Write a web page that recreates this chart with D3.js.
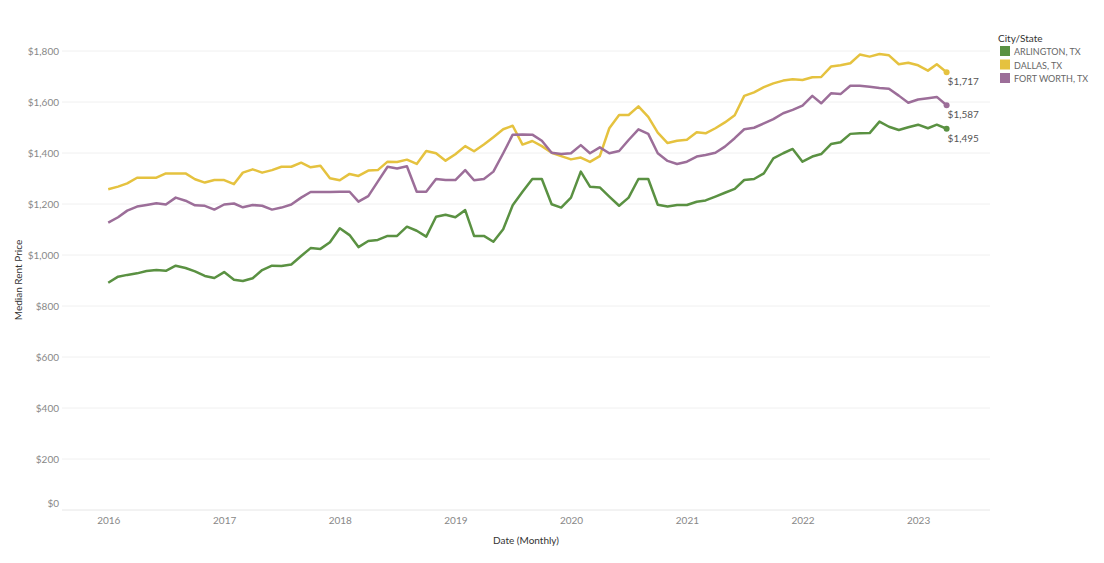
<!DOCTYPE html>
<html><head><meta charset="utf-8">
<script src="https://cdn.jsdelivr.net/npm/d3@7"></script>
<style>
body{margin:0;background:#fff;}
text{font-family:Lato,"Open Sans",sans-serif;}
</style></head><body>
<svg id="chart" width="1104" height="563"></svg>
<script>
const startMonth = "2016-01";
const cities = ["ARLINGTON, TX", "DALLAS, TX", "FORT WORTH, TX"];
const arlington = [891,915,922,928,937,941,938,958,949,936,918,910,933,903,898,909,941,958,957,963,996,1027,1024,1050,
 1105,1078,1031,1055,1059,1075,1075,1111,1095,1072,1150,1158,1148,1176,1075,1075,1052,1101,1195,1248,1298,1298,
 1199,1186,1225,1327,1268,1265,1229,1193,1225,1298,1298,1197,1190,1196,1196,1209,1214,1229,1244,1259,1294,1298,1320,
 1379,1399,1416,1366,1386,1396,1435,1442,1475,1477,1478,1523,1503,1490,1501,1511,1497,1511,1495];
const dallas = [1258,1268,1281,1303,1303,1303,1320,1320,1320,1297,1284,1294,1294,1278,1323,1336,1323,1333,1346,1346,1362,1344,1350,1301,
 1293,1318,1310,1331,1333,1366,1365,1374,1357,1408,1399,1370,1395,1427,1407,1433,1462,1493,1507,1433,1447,1427,
 1401,1388,1375,1382,1365,1388,1497,1549,1549,1583,1542,1480,1439,1448,1452,1481,1477,1497,1520,1548,1624,1638,1658,
 1673,1684,1689,1686,1697,1698,1739,1744,1752,1786,1778,1788,1783,1748,1754,1744,1723,1748,1717];
const fortWorth = [1127,1148,1174,1190,1196,1203,1198,1225,1213,1195,1193,1178,1198,1202,1187,1196,1193,1178,1186,1198,1225,1247,1247,1247,
 1248,1248,1209,1231,1288,1346,1339,1348,1248,1248,1298,1294,1294,1333,1293,1298,1327,1399,1472,1473,1472,1448,
 1401,1396,1399,1431,1399,1422,1399,1408,1451,1493,1475,1399,1369,1357,1366,1386,1392,1401,1425,1458,1493,1499,1516,
 1533,1556,1569,1586,1624,1595,1634,1631,1664,1664,1660,1655,1652,1625,1597,1610,1615,1620,1587];
const colors = ["#5a9142", "#e5c23f", "#9c6e99"];
const yTicks = [0,200,400,600,800,1000,1200,1400,1600,1800];
const xTickYears = [2016,2017,2018,2019,2020,2021,2022,2023];

const seriesVals = [arlington, dallas, fortWorth];
const parseM = d3.timeParse("%Y-%m");
const t0 = parseM(startMonth);
const dates = arlington.map((_, i) => d3.timeMonth.offset(t0, i));

const svg = d3.select("#chart");
const x = d3.scaleTime().domain([new Date(2015,7,8), new Date(2023,7,16)]).range([62, 990]);
const y = d3.scaleLinear().domain([0, 1800]).range([510, 51]);

// gridlines
svg.append("g").selectAll("line").data(yTicks).join("line")
  .attr("x1", 62).attr("x2", 990)
  .attr("y1", d => y(d)).attr("y2", d => y(d))
  .attr("stroke", d => d === 0 ? "#e6e6e6" : "#f0f0f0").attr("stroke-width", 1);

// y axis labels
const yAxis = d3.axisLeft(y).tickValues(yTicks).tickSize(0).tickPadding(0)
  .tickFormat(d => "$" + d3.format(",")(d));
const gy = svg.append("g").attr("transform", "translate(59,0)").call(yAxis);
gy.select(".domain").remove();
gy.selectAll("text").attr("fill", "#888").style("font-size", "10px")
  .attr("dy", d => d === 0 ? "-0.35em" : "0.32em");

// x axis labels
const xAxis = d3.axisBottom(x).tickValues(xTickYears.map(yr => new Date(yr,0,1)))
  .tickSize(0).tickPadding(0).tickFormat(d3.timeFormat("%Y"));
const gx = svg.append("g").attr("transform", "translate(0,517)").call(xAxis);
gx.select(".domain").remove();
gx.selectAll("text").attr("fill", "#888").style("font-size", "10px");

// axis titles
svg.append("text").attr("x", 526).attr("y", 544).attr("text-anchor", "middle")
  .attr("fill", "#333").style("font-size", "10px").text("Date (Monthly)");
svg.append("text").attr("transform", "translate(22,280) rotate(-90)").attr("text-anchor", "middle")
  .attr("fill", "#333").style("font-size", "10px").text("Median Rent Price");

// lines
const line = d3.line().x((d, i) => x(dates[i])).y(d => y(d));
seriesVals.forEach((vals, k) => {
  svg.append("path").datum(vals).attr("d", line).attr("fill", "none")
    .attr("stroke", colors[k]).attr("stroke-width", 2.5).attr("stroke-linejoin", "round");
  const last = vals.length - 1;
  svg.append("circle").attr("cx", x(dates[last])).attr("cy", y(vals[last])).attr("r", 3).attr("fill", colors[k]);
  svg.append("text").attr("x", x(dates[last]) + 1).attr("y", y(vals[last]) + 13)
    .attr("fill", "#555").style("font-size", "10px").text("$" + d3.format(",")(vals[last]));
});

// legend
const lg = svg.append("g");
lg.append("text").attr("x", 998).attr("y", 42).attr("fill", "#333").style("font-size", "10px").text("City/State");
cities.forEach((c, k) => {
  lg.append("rect").attr("x", 1000).attr("y", 46 + k*13.5).attr("width", 10).attr("height", 10).attr("fill", colors[k]);
  lg.append("text").attr("x", 1014).attr("y", 55 + k*13.5).attr("fill", "#666").style("font-size", "9px").text(c);
});
</script></body></html>
